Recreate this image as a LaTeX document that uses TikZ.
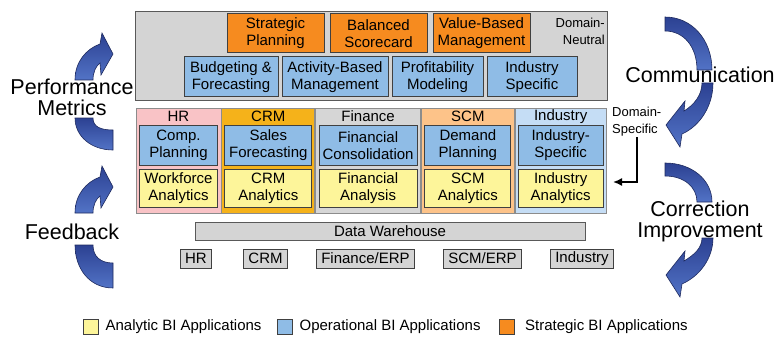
\documentclass[tikz,border=0pt]{standalone}
\usepackage{fontspec}
\setmainfont{Liberation Sans}
\usetikzlibrary{arrows.meta, positioning, calc}

\definecolor{panelgray}{HTML}{D4D4D4}
\definecolor{stratorange}{HTML}{F68B1F}
\definecolor{opblue}{HTML}{8FBCE6}
\definecolor{anyellow}{HTML}{FDF59A}
\definecolor{hrpink}{HTML}{F9C3C6}
\definecolor{crmgold}{HTML}{F5B21A}
\definecolor{fingray}{HTML}{D6D6D6}
\definecolor{scmpeach}{HTML}{FDC389}
\definecolor{indblue}{HTML}{C5DDF5}
\definecolor{arrowdark}{HTML}{2C4192}
\definecolor{arrowlight}{HTML}{5273C6}
\definecolor{arrowline}{HTML}{1E2A5E}

\newcommand{\boxfont}{\fontsize{15}{17}\selectfont}
\newcommand{\notefont}{\fontsize{13}{17}\selectfont}
\newcommand{\loopfont}{\fontsize{21.5}{20.5}\selectfont}
\newcommand{\legendfont}{\fontsize{15}{17}\selectfont}

\begin{document}
\begin{tikzpicture}[
    x=1pt, y=-1pt,
    % Styles
    panel/.style={rectangle, draw=black!65, fill=panelgray, line width=0.8pt},
    appbox/.style={rectangle, draw=black!75, line width=1pt, inner sep=1pt, align=center, font=\boxfont, minimum height=40pt},
    stratbox/.style={appbox, fill=stratorange, minimum height=39pt},
    opbox/.style={appbox, fill=opblue},
    anbox/.style={appbox, fill=anyellow, minimum height=38pt},
    colbox/.style={rectangle, draw=black!45, line width=0.8pt, minimum height=105pt},
    colhead/.style={font=\boxfont, inner sep=0pt},
    srcbox/.style={rectangle, draw=black!75, fill=panelgray, line width=0.8pt, font=\boxfont, inner xsep=5pt, inner ysep=0pt, minimum height=19pt},
    domainnote/.style={font=\notefont, inner sep=1pt},
    looplabel/.style={font=\loopfont, align=center, inner sep=0pt},
    flowarrow/.style={draw=arrowline, line width=0.6pt, top color=arrowdark, bottom color=arrowlight},
    connector/.style={-{Latex[length=9pt, width=8pt]}, line width=1.6pt},
    legendbox/.style={rectangle, draw=black!75, line width=0.8pt, minimum size=15pt, inner sep=0pt},
    legendtext/.style={font=\legendfont, anchor=west, inner sep=0pt}
]
\useasboundingbox (0,0) rectangle (777,337);

% --- Cycle Arrows (left) ---
\shade[flowarrow] (75,80) .. controls (75,62) and (86,49) .. (100,44) -- (102,33) -- (113,54) -- (101,75) -- (100,63) .. controls (96,66) and (93,72) .. (93,80) -- cycle;
\shade[flowarrow] (75,118) -- (93,118) .. controls (93,127) and (101,130) .. (113,130) -- (113,150) .. controls (91,150) and (75,136) .. (75,118) -- cycle;
\shade[flowarrow] (75,213) .. controls (75,195) and (86,182) .. (100,177) -- (102,166) -- (113,187) -- (101,208) -- (100,196) .. controls (96,199) and (93,205) .. (93,213) -- cycle;
\shade[flowarrow] (75,245) -- (93,245) .. controls (93,257) and (101,263) .. (113,263) -- (113,288) .. controls (89,288) and (75,268) .. (75,245) -- cycle;

% --- Cycle Arrows (right) ---
\shade[flowarrow] (665,17) .. controls (692,17) and (712,40) .. (712,70) -- (697,70) .. controls (697,47) and (684,31) .. (665,31) -- cycle;
\shade[flowarrow] (702,83) -- (713,83) .. controls (713,106) and (700,126) .. (682,134) -- (680,147) -- (666,125) -- (685,101) -- (684,111) .. controls (694,105) and (702,95) .. (702,83) -- cycle;
\shade[flowarrow] (665,163) .. controls (692,163) and (712,180) .. (712,202) -- (697,202) .. controls (697,187) and (684,176) .. (665,176) -- cycle;
\shade[flowarrow] (702,238) -- (713,238) .. controls (713,258) and (700,276) .. (682,284) -- (680,297) -- (666,275) -- (685,251) -- (684,261) .. controls (694,255) and (702,248) .. (702,238) -- cycle;

\node[looplabel] (perf) at (72,97.5) {Performance\\Metrics};
\node[looplabel] (feedback) at (72,232) {Feedback};
\node[looplabel] (comm) at (700,75) {Communication};
\node[looplabel] (correct) at (700,221.5) {Correction\\Improvement};

% --- Domain-Neutral Layer ---
\node[panel, minimum width=472pt, minimum height=89pt] (neutral) at (371,55.5) {};
\node[domainnote, align=right, anchor=east] (dneutral) at (606,31) {Domain-\\Neutral};

\node[stratbox, minimum width=97pt] (strat) at (275.5,33.5) {Strategic\\Planning};
\node[stratbox, minimum width=97pt, right=5pt of strat] (balanced) {Balanced\\Scorecard};
\node[stratbox, minimum width=97pt, right=5pt of balanced] (valuebased) {Value-Based\\Management};

\node[opbox, minimum width=94pt] (budget) at (231,77) {Budgeting \&\\Forecasting};
\node[opbox, minimum width=106pt, right=3pt of budget] (abm) {Activity-Based\\Management};
\node[opbox, minimum width=91pt, right=3pt of abm] (profit) {Profitability\\Modeling};
\node[opbox, minimum width=90pt, right=3pt of profit] (indspec) {Industry\\Specific};

% --- Domain-Specific Layer ---
\node[colbox, fill=hrpink, minimum width=85pt] (hr) at (178.5,160.5) {};
\node[colbox, fill=crmgold, minimum width=93pt, right=0pt of hr] (crm) {};
\node[colbox, fill=fingray, minimum width=105pt, right=0pt of crm] (fin) {};
\node[colbox, fill=scmpeach, minimum width=93pt, right=0pt of fin] (scm) {};
\node[colbox, fill=indblue, minimum width=91pt, right=0pt of scm] (ind) {};

\node[colhead] (hr_head) at ([yshift=-9pt]hr.north) {HR};
\node[colhead] (crm_head) at ([yshift=-9pt]crm.north) {CRM};
\node[colhead] (fin_head) at ([yshift=-9pt]fin.north) {Finance};
\node[colhead] (scm_head) at ([yshift=-9pt]scm.north) {SCM};
\node[colhead] (ind_head) at ([yshift=-9pt]ind.north) {Industry};

\node[opbox, minimum width=78pt] (hr_op) at ([yshift=-38pt]hr.north) {Comp.\\Planning};
\node[opbox, minimum width=87pt] (crm_op) at ([yshift=-38pt]crm.north) {Sales\\Forecasting};
\node[opbox, minimum width=98pt] (fin_op) at ([yshift=-38pt]fin.north) {Financial\\Consolidation};
\node[opbox, minimum width=86pt] (scm_op) at ([yshift=-38pt]scm.north) {Demand\\Planning};
\node[opbox, minimum width=85pt] (ind_op) at ([yshift=-38pt]ind.north) {Industry-\\Specific};

\node[anbox, minimum width=78pt] (hr_an) at ([yshift=-81pt]hr.north) {Workforce\\Analytics};
\node[anbox, minimum width=87pt] (crm_an) at ([yshift=-81pt]crm.north) {CRM\\Analytics};
\node[anbox, minimum width=98pt] (fin_an) at ([yshift=-81pt]fin.north) {Financial\\Analysis};
\node[anbox, minimum width=86pt] (scm_an) at ([yshift=-81pt]scm.north) {SCM\\Analytics};
\node[anbox, minimum width=85pt] (ind_an) at ([yshift=-81pt]ind.north) {Industry\\Analytics};

\node[domainnote, align=left, anchor=west] (dspecific) at (611,121.5) {Domain-\\Specific};
\coordinate (dspec_end) at (613,182);
\draw[connector] (dspecific) |- (dspec_end);

% --- Data Layer ---
\node[panel, font=\boxfont, minimum width=390pt, minimum height=18pt, inner sep=0pt] (dw) at (390,231) {Data Warehouse};

\node[srcbox] (src_hr) at (196,258.5) {HR};
\node[srcbox] (src_crm) at (265.5,258.5) {CRM};
\node[srcbox] (src_fin) at (365.5,258.5) {Finance/ERP};
\node[srcbox] (src_scm) at (482.5,258.5) {SCM/ERP};
\node[srcbox] (src_ind) at (582,258.5) {Industry};

% --- Legend ---
\node[legendbox, fill=anyellow] (key_an) at (90.5,326.5) {};
\node[legendtext, right=7pt of key_an] (key_an_text) {Analytic BI Applications};
\node[legendbox, fill=opblue] (key_op) at (284.5,326.5) {};
\node[legendtext, right=7pt of key_op] (key_op_text) {Operational BI Applications};
\node[legendbox, fill=stratorange] (key_strat) at (507,326.5) {};
\node[legendtext, right=10pt of key_strat] (key_strat_text) {Strategic BI Applications};

\end{tikzpicture}
\end{document}
